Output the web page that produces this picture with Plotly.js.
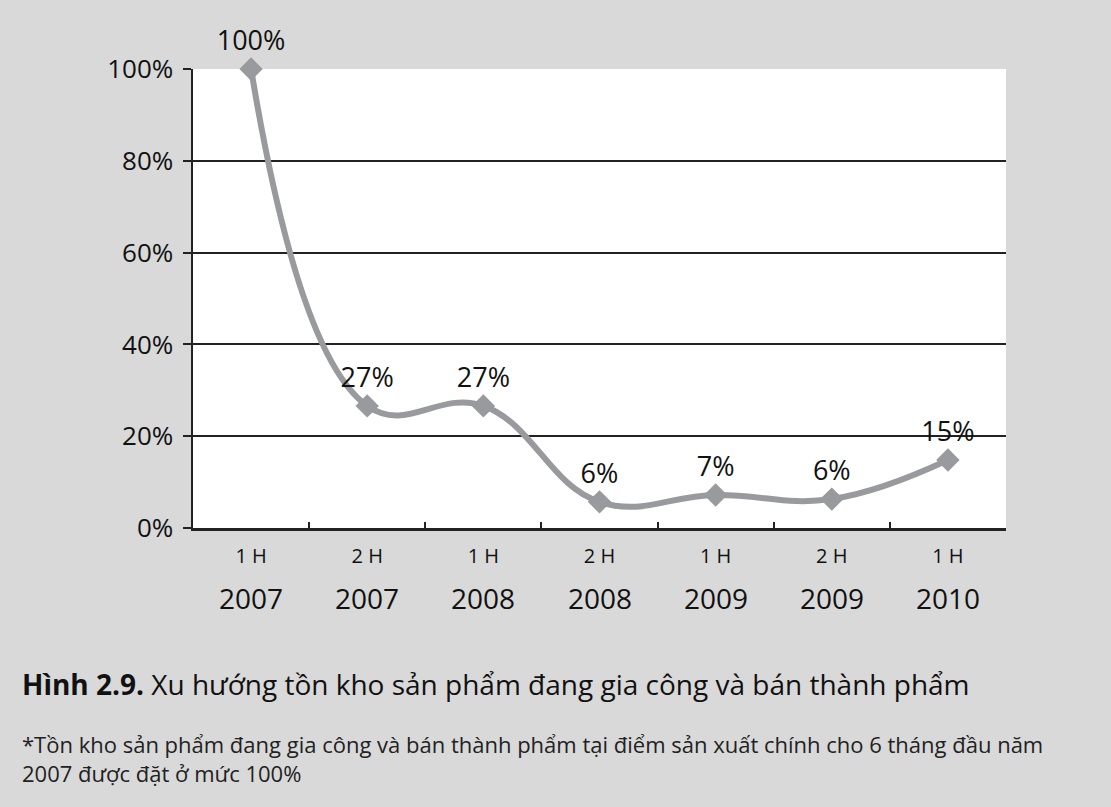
<!DOCTYPE html>
<html><head><meta charset="utf-8">
<script src="https://cdn.plot.ly/plotly-3.0.1.min.js"></script>
<style>html,body{margin:0;padding:0;background:#d9d9d9;}#c{width:1111px;height:807px;}</style>
</head><body><div id="c"></div>
<script>
const periods = ["1 H", "2 H", "1 H", "2 H", "1 H", "2 H", "1 H"];
const years = ["2007", "2007", "2008", "2008", "2009", "2009", "2010"];
const values = [100, 26.6, 26.6, 5.7, 7.2, 6.3, 14.8];
const valueLabels = ["100%", "27%", "27%", "6%", "7%", "6%", "15%"];
const yTicks = [0, 20, 40, 60, 80, 100];
const yTickLabels = ["0%", "20%", "40%", "60%", "80%", "100%"];

const cats = periods.map((p, i) => p + " " + years[i]);

const hand = "Open Sans, sans-serif";

const trace = {
  x: cats, y: values, type: "scatter", mode: "lines+markers+text",
  line: {color: "#999a9e", width: 6, shape: "spline", smoothing: 1.2},
  marker: {symbol: "diamond", size: 18, color: "#999a9e"},
  text: valueLabels, textposition: "top center",
  textfont: {family: hand, size: 27, color: "#111"},
  cliponaxis: false, hoverinfo: "skip"
};

const yearAnnotations = cats.map((c, i) => ({
  xref: "x", yref: "paper", x: c, y: -70/459, xanchor: "center", yanchor: "middle",
  showarrow: false, text: years[i], font: {family: hand, size: 28, color: "#111"}
}));

const layout = {
  width: 1111, height: 807,
  paper_bgcolor: "#d9d9d9", plot_bgcolor: "#ffffff",
  margin: {l: 193, r: 105, t: 69, b: 279},
  showlegend: false,
  font: {family: hand, color: "#111"},
  xaxis: {
    type: "category", range: [-0.5, cats.length - 0.5],
    tickmode: "array", tickvals: cats, ticktext: periods,
    tickson: "boundaries", ticks: "inside", ticklen: 6, tickcolor: "#222", tickwidth: 2,
    showline: true, linecolor: "#222", linewidth: 2.5, showgrid: false,
    tickfont: {family: hand, size: 20, color: "#111"}, ticklabelstandoff: 8, fixedrange: true
  },
  yaxis: {
    range: [0, 100], tickmode: "array", tickvals: yTicks, ticktext: yTickLabels,
    ticks: "outside", ticklen: 8, tickcolor: "#222", tickwidth: 2,
    showline: true, linecolor: "#222", linewidth: 2.5,
    showgrid: true, gridcolor: "#222", gridwidth: 2, zeroline: false,
    tickfont: {family: hand, size: 26, color: "#111"}, ticklabelstandoff: 4, fixedrange: true
  },
  annotations: yearAnnotations.concat([
    {xref: "paper", yref: "paper", x: -193/813, y: -156/459, xanchor: "left", yanchor: "middle",
     showarrow: false, align: "left",
     text: "<b>Hình 2.9.</b> Xu hướng tồn kho sản phẩm đang gia công và bán thành phẩm",
     font: {family: "Open Sans, sans-serif", size: 28, color: "#111"}, xshift: 20},
    {xref: "paper", yref: "paper", x: -193/813, y: -199/459, xanchor: "left", yanchor: "top",
     showarrow: false, align: "left",
     text: "*Tồn kho sản phẩm đang gia công và bán thành phẩm tại điểm sản xuất chính cho 6 tháng đầu năm<br>2007 được đặt ở mức 100%",
     font: {family: "Open Sans, sans-serif", size: 22, color: "#222"}, xshift: 20}
  ])
};

Plotly.newPlot("c", [trace], layout, {displayModeBar: false, staticPlot: true});
</script></body></html>
